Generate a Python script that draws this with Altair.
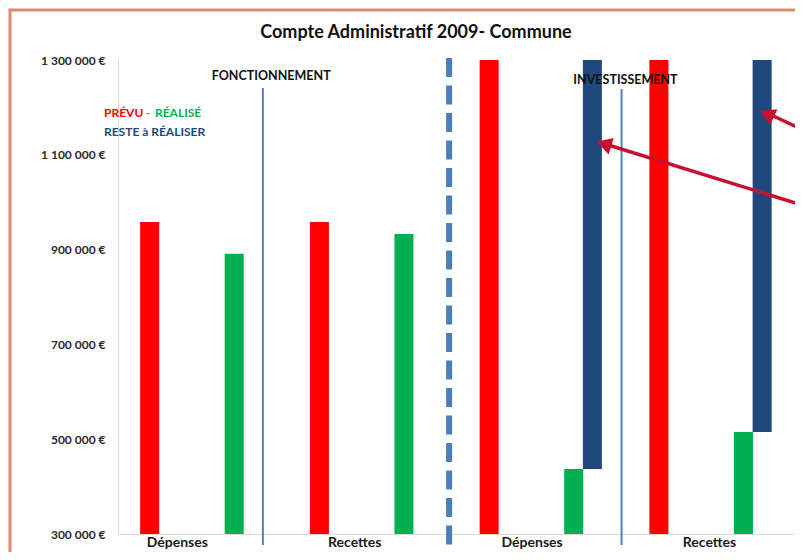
import altair as alt
import pandas as pd

# ---------------- data ----------------
categories = ["Dépenses", "Recettes", "Dépenses", "Recettes"]
sections = ["FONCTIONNEMENT", "INVESTISSEMENT"]
prevu = [958000, 958000, 1550000, 1550000]
realise = [891000, 933000, 437000, 515000]
reste = [0, 0, 1100000, 1050000]
y_ticks = [300000, 500000, 700000, 900000, 1100000, 1300000]
series = ["Prévu", "Réalisé", "Reste à réaliser"]
colors = ["#FF0000", "#00B050", "#1F497D"]

# ---------------- layout constants ----------------
Y_MIN, Y_MAX = 300000, 1300000
GROUP_PX = 172.3
W, H = 677, 474
OFF = {"Prévu": 0.157, "Réalisé": 0.655, "Reste à réaliser": 0.765}
FONT = "Lato"

rows = []
for i in range(len(categories)):
    rows.append(dict(pos=i + OFF["Prévu"], top=prevu[i], base=Y_MIN, serie="Prévu"))
    rows.append(dict(pos=i + OFF["Réalisé"], top=realise[i], base=Y_MIN, serie="Réalisé"))
    if reste[i]:
        rows.append(dict(pos=i + OFF["Reste à réaliser"], top=realise[i] + reste[i],
                         base=realise[i], serie="Reste à réaliser"))
df = pd.DataFrame(rows)

lab = pd.DataFrame({"pos": [i + 0.32 + 0.045 * i for i in range(len(categories))],
                    "cat": categories})

x_scale = alt.Scale(domain=[0, W / GROUP_PX], nice=False, zero=False)
y_scale = alt.Scale(domain=[Y_MIN, Y_MAX], nice=False, zero=False)

label_expr = "replace(replace(format(datum.value, ','), ',', ' '), ',', ' ') + ' €'"

bars = alt.Chart(df).mark_bar(size=19, clip=True).encode(
    x=alt.X("pos:Q", scale=x_scale,
            axis=alt.Axis(labels=False, ticks=False, grid=False, title=None,
                          domainColor="#D9D9D9", domainWidth=1)),
    y=alt.Y("top:Q", scale=y_scale,
            axis=alt.Axis(values=y_ticks, ticks=False, grid=False, title=None,
                          labelExpr=label_expr, labelPadding=13, labelFont=FONT,
                          labelFontSize=12, labelFontWeight="bold", labelColor="#2B2B2B",
                          domainColor="#D9D9D9", domainWidth=1)),
    y2="base:Q",
    color=alt.Color("serie:N", scale=alt.Scale(domain=series, range=colors), legend=None),
)

cat_labels = alt.Chart(lab).mark_text(font=FONT, fontSize=14, fontWeight="bold",
                                      color="#1A1A1A", baseline="middle").encode(
    x=alt.X("pos:Q", scale=x_scale), y=alt.value(483), text="cat:N")

# section labels
sec_df = pd.DataFrame({"pos": [0.873, 2.96], "yy": [16, 20], "txt": sections})
sec_labels = alt.Chart(sec_df).mark_text(font=FONT, fontSize=12.5, fontWeight="bold",
                                         color="#111111", baseline="middle").encode(
    x=alt.X("pos:Q", scale=x_scale), y=alt.Y("yy:Q", scale=None), text="txt:N")

# separators
sep1 = alt.Chart().mark_rule(color="#4F81BD", strokeWidth=2).encode(
    x=alt.datum(0.824, scale=x_scale), y=alt.value(28), y2=alt.value(485))
sep2 = alt.Chart().mark_rule(color="#4F81BD", strokeWidth=2).encode(
    x=alt.datum(2.937, scale=x_scale), y=alt.value(29), y2=alt.value(485))
dashed = alt.Chart().mark_rule(color="#4A7EBB", strokeWidth=6, strokeDash=[19, 8.5]).encode(
    x=alt.datum(1.921, scale=x_scale), y=alt.value(-2), y2=alt.value(485))

# legend text
leg1 = alt.Chart().mark_text(font=FONT, fontSize=12, fontWeight="bold", color="#FF0000",
                             align="left", baseline="middle").encode(
    x=alt.value(-14), y=alt.value(53), text=alt.value("PRÉVU"))
leg2 = alt.Chart().mark_text(font=FONT, fontSize=12, fontWeight="bold", color="#7F7F7F",
                             align="left", baseline="middle").encode(
    x=alt.value(28), y=alt.value(53), text=alt.value("-"))
leg3 = alt.Chart().mark_text(font=FONT, fontSize=12, fontWeight="bold", color="#00B050",
                             align="left", baseline="middle").encode(
    x=alt.value(37), y=alt.value(53), text=alt.value("RÉALISÉ"))
leg4 = alt.Chart().mark_text(font=FONT, fontSize=12, fontWeight="bold", color="#1F497D",
                             align="left", baseline="middle").encode(
    x=alt.value(-14), y=alt.value(72), text=alt.value("RESTE à RÉALISER"))

# title
title = alt.Chart().mark_text(font=FONT, fontSize=18, fontWeight="bold", color="#111111",
                              baseline="middle").encode(
    x=alt.value(298), y=alt.value(-27), text=alt.value("Compte Administratif 2009- Commune"))

# frame
frame = alt.Chart().mark_rect(filled=False, stroke="#DE8A6C", strokeWidth=3).encode(
    x=alt.value(-108), y=alt.value(-50), x2=alt.value(800), y2=alt.value(700))

# arrows
ARROW = "#C8102E"
a1 = alt.Chart().mark_rule(color=ARROW, strokeWidth=3.5).encode(
    x=alt.value(487), y=alt.value(84), x2=alt.value(700), y2=alt.value(150))
a2 = alt.Chart().mark_rule(color=ARROW, strokeWidth=3.5).encode(
    x=alt.value(649), y=alt.value(53), x2=alt.value(700), y2=alt.value(77))
h1 = alt.Chart().mark_point(shape="triangle-up", filled=True, opacity=1, color=ARROW,
                            size=300, angle=287).encode(x=alt.value(486), y=alt.value(84))
h2 = alt.Chart().mark_point(shape="triangle-up", filled=True, opacity=1, color=ARROW,
                            size=300, angle=295).encode(x=alt.value(649), y=alt.value(54))

chart = alt.layer(
    frame, bars, sep1, sep2, dashed, cat_labels, sec_labels,
    leg1, leg2, leg3, leg4, title, a1, a2, h1, h2,
).properties(
    width=W, height=H,
    padding={"left": 110, "top": 52, "right": 0, "bottom": 18},
    autosize=alt.AutoSizeParams(type="none"),
    background="white",
).configure_view(stroke=None)

chart.save("out.html", embed_options={"renderer": "svg", "actions": False})
